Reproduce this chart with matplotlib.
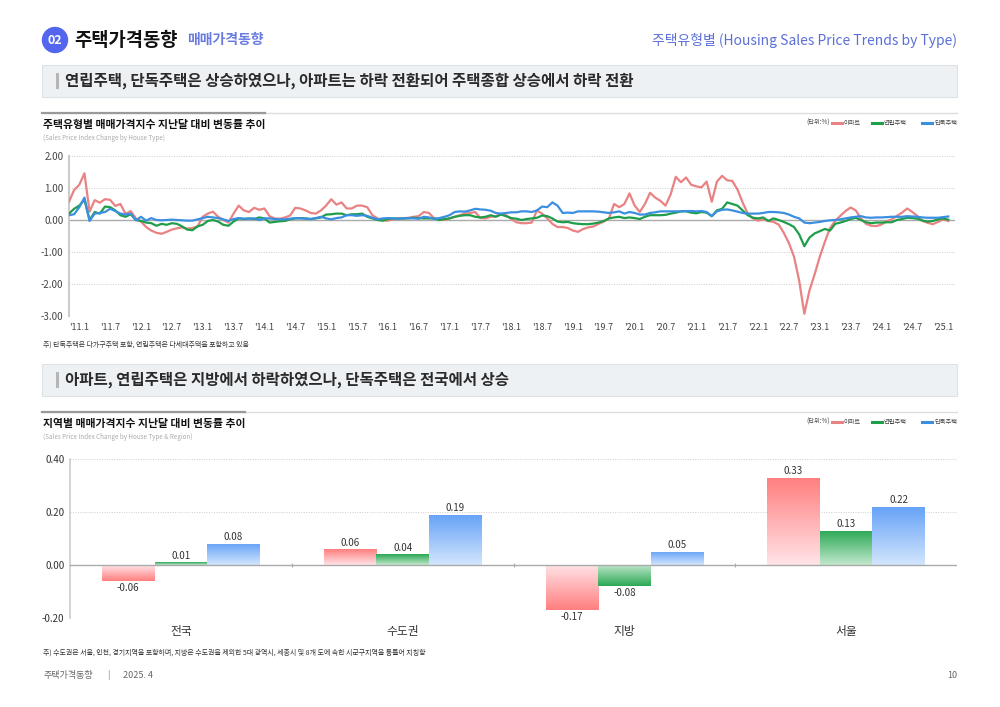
import matplotlib
matplotlib.use('Agg')
import matplotlib.pyplot as plt
from matplotlib.patches import Rectangle, Ellipse
from matplotlib.colors import LinearSegmentedColormap
import numpy as np

plt.rcParams['font.family'] = ['Noto Sans CJK KR', 'DejaVu Sans']

# monthly change (%), 2011.1 - 2025.4
apt = [0.57, 0.94, 1.1, 1.46, 0.26, 0.62, 0.54, 0.65, 0.63, 0.44,
       0.5, 0.19, 0.28, 0.05, -0.05, -0.22, -0.33, -0.4, -0.43, -0.37,
       -0.3, -0.26, -0.23, -0.27, -0.25, -0.2, 0.1, 0.2, 0.26, 0.1,
       0.0, -0.08, 0.2, 0.45, 0.3, 0.25, 0.38, 0.32, 0.36, 0.12,
       0.05, 0.04, 0.08, 0.14, 0.38, 0.36, 0.3, 0.22, 0.2, 0.3,
       0.45, 0.65, 0.48, 0.55, 0.36, 0.36, 0.45, 0.45, 0.4, 0.15,
       0.05, -0.01, -0.02, 0.02, 0.05, 0.05, 0.07, 0.1, 0.12, 0.25,
       0.22, 0.05, 0.02, 0.0, 0.05, 0.1, 0.15, 0.2, 0.22, 0.25,
       0.06, 0.05, 0.1, 0.12, 0.18, 0.15, 0.03, -0.07, -0.1, -0.1,
       -0.08, 0.3, 0.2, 0.05, -0.12, -0.22, -0.22, -0.25, -0.33, -0.37,
       -0.28, -0.23, -0.2, -0.12, -0.05, 0.05, 0.5, 0.4, 0.5, 0.83,
       0.45, 0.25, 0.5, 0.85, 0.7, 0.6, 0.45, 0.8, 1.35, 1.18,
       1.33, 1.1, 1.05, 1.02, 1.2, 0.57, 1.2, 1.38, 1.24, 1.22,
       0.95, 0.55, 0.2, 0.05, -0.02, 0.02, -0.03, -0.06, -0.14, -0.4,
       -0.72, -1.15, -1.9, -2.93, -2.2, -1.7, -1.15, -0.68, -0.25, -0.03,
       0.13, 0.28, 0.39, 0.3, 0.05, -0.12, -0.18, -0.19, -0.14, -0.04,
       0.02, 0.13, 0.23, 0.36, 0.25, 0.12, -0.03, -0.09, -0.13, -0.06,
       0.02, -0.03]
row = [0.2, 0.35, 0.45, 0.63, 0.0, 0.25, 0.2, 0.42, 0.4, 0.3,
       0.15, 0.1, 0.18, 0.0, -0.03, -0.08, -0.1, -0.18, -0.12, -0.15,
       -0.1, -0.12, -0.2, -0.3, -0.32, -0.2, -0.15, -0.03, 0.0, -0.05,
       -0.15, -0.18, -0.05, 0.05, 0.03, 0.05, 0.03, 0.08, 0.05, -0.08,
       -0.06, -0.04, -0.03, 0.02, 0.05, 0.06, 0.05, 0.03, 0.05, 0.08,
       0.17, 0.18, 0.2, 0.2, 0.15, 0.18, 0.18, 0.2, 0.1, 0.05,
       0.0, -0.02, 0.03, 0.05, 0.04, 0.05, 0.05, 0.07, 0.06, 0.05,
       0.05, 0.05, 0.0, 0.03, 0.05, 0.1, 0.13, 0.15, 0.15, 0.1,
       0.08, 0.1, 0.15, 0.1, 0.17, 0.12, 0.06, 0.04, 0.0, 0.03,
       0.05, 0.07, 0.14, 0.12, 0.05, -0.05, -0.07, -0.06, -0.1, -0.12,
       -0.13, -0.13, -0.11, -0.08, -0.03, 0.05, 0.08, 0.1, 0.06, 0.08,
       0.06, 0.03, 0.1, 0.15, 0.15, 0.15, 0.16, 0.2, 0.23, 0.27,
       0.27, 0.23, 0.21, 0.25, 0.23, 0.12, 0.3, 0.35, 0.55, 0.5,
       0.45, 0.3, 0.15, 0.07, 0.05, 0.08, -0.03, 0.05, 0.0, -0.06,
       -0.13, -0.22, -0.45, -0.82, -0.55, -0.42, -0.35, -0.28, -0.33, -0.12,
       -0.08, -0.03, 0.03, 0.07, 0.0, -0.07, -0.1, -0.08, -0.08, -0.07,
       -0.07, 0.0, 0.03, 0.07, 0.06, 0.04, -0.02, -0.05, -0.03, 0.02,
       0.05, 0.01]
det = [0.15, 0.18, 0.4, 0.7, -0.03, 0.2, 0.22, 0.25, 0.35, 0.28,
       0.2, 0.17, 0.2, -0.01, 0.1, -0.02, 0.06, 0.0, -0.01, 0.0,
       0.01, 0.0, -0.01, -0.02, -0.02, 0.02, 0.06, 0.1, 0.08, 0.06,
       0.02, -0.03, 0.03, 0.06, 0.04, 0.04, 0.05, 0.0, 0.05, 0.05,
       0.03, 0.02, 0.02, 0.04, 0.06, 0.05, 0.04, 0.03, 0.06, 0.1,
       0.05, 0.02, 0.06, 0.08, 0.15, 0.15, 0.13, 0.15, 0.13, 0.07,
       0.02, 0.05, 0.06, 0.05, 0.04, 0.05, 0.06, 0.05, 0.04, 0.1,
       0.08, 0.03, 0.06, 0.1, 0.15, 0.25, 0.27, 0.26, 0.3, 0.35,
       0.33, 0.32, 0.29, 0.22, 0.2, 0.22, 0.24, 0.24, 0.27, 0.27,
       0.25, 0.3, 0.42, 0.4, 0.55, 0.45, 0.22, 0.23, 0.22, 0.27,
       0.27, 0.27, 0.27, 0.26, 0.24, 0.22, 0.24, 0.27, 0.2, 0.25,
       0.22, 0.17, 0.17, 0.22, 0.24, 0.27, 0.27, 0.27, 0.27, 0.27,
       0.28, 0.28, 0.27, 0.28, 0.25, 0.12, 0.27, 0.32, 0.33, 0.3,
       0.26, 0.22, 0.2, 0.2, 0.2, 0.22, 0.25, 0.25, 0.24, 0.22,
       0.17, 0.1, 0.05, -0.08, -0.1, -0.08, -0.06, -0.03, -0.01, 0.0,
       0.02, 0.05, 0.08, 0.1, 0.12, 0.08, 0.07, 0.08, 0.08, 0.09,
       0.1, 0.1, 0.1, 0.12, 0.11, 0.1, 0.08, 0.07, 0.07, 0.07,
       0.09, 0.11]
xlabels = ["'%d.%d" % (y, m) for y in range(11, 26) for m in (1, 7)][:29]

regions = ['전국', '수도권', '지방', '서울']
bar_apt = [-0.06, 0.06, -0.17, 0.33]
bar_row = [0.01, 0.04, -0.08, 0.13]
bar_det = [0.08, 0.19, 0.05, 0.22]

C_APT, C_ROW, C_DET = '#e98283', '#1f9e4a', '#3b8fe0'

W, H = 1000, 707
fig = plt.figure(figsize=(10, 7.07), dpi=100)


def fx(x):
    return x / W


def fy(y):
    return 1 - y / H


def rect(x0, y0, x1, y1, **kw):
    fig.patches.append(Rectangle((fx(x0), fy(y1)), fx(x1 - x0), (y1 - y0) / H,
                                 transform=fig.transFigure, **kw))


def hline(x0, x1, y, color, lw):
    fig.add_artist(plt.Line2D([fx(x0), fx(x1)], [fy(y), fy(y)], color=color,
                              lw=lw, transform=fig.transFigure))


# header
fig.patches.append(Ellipse((fx(55), fy(40)), 25 / W, 25 / H, color='#5566ee',
                           transform=fig.transFigure))
fig.text(fx(55), fy(40.5), '02', color='white', fontsize=9, weight='bold',
         ha='center', va='center')
fig.text(fx(74), fy(40), '주택가격동향', fontsize=13.5, weight='bold',
         color='#111', va='center')
fig.text(fx(187), fy(40), '매매가격동향', fontsize=10, weight='bold',
         color='#6a7be0', va='center')
fig.text(fx(957), fy(40), '주택유형별 (Housing Sales Price Trends by Type)',
         fontsize=10, color='#5b6fd6', ha='right', va='center')


def banner(y0, y1, text):
    rect(42, y0, 957, y1, facecolor='#eef1f3', edgecolor='#dde2e5', lw=0.8)
    rect(55.5, y0 + 8, 58.5, y1 - 8, facecolor='#b5b5b5', edgecolor='none')
    fig.text(fx(65), fy((y0 + y1) / 2), text, fontsize=11.2, weight='bold',
             color='#2a2a2a', va='center')


def chart_head(y, x_dark, title, sub):
    hline(42, 957, y, '#dddddd', 1.0)
    hline(42, x_dark, y, '#9a9a9a', 1.6)
    fig.text(fx(43), fy(y + 12), title, fontsize=7.8, weight='bold',
             color='#111', va='center')
    fig.text(fx(43), fy(y + 25), sub, fontsize=4.5, color='#aaaaaa',
             va='center')
    ly = y + 10
    fig.text(fx(806), fy(ly), '(단위:%)', fontsize=4.5, color='#444',
             va='center')
    for x0, c, lab in [(832, C_APT, '아파트'), (872, C_ROW, '연립주택'),
                       (922, C_DET, '단독주택')]:
        hline(x0, x0 + 10, ly, c, 2.2)
        fig.text(fx(x0 + 12), fy(ly), lab, fontsize=4.5, color='#444',
                 va='center')


banner(65, 97, '연립주택, 단독주택은 상승하였으나, 아파트는 하락 전환되어 주택종합 상승에서 하락 전환')
chart_head(113, 265, '주택유형별 매매가격지수 지난달 대비 변동률 추이',
           '(Sales Price Index Change by House Type)')

# line chart
ax1 = fig.add_axes([fx(69), fy(316), fx(955 - 69), 160 / H])
n = len(apt)
t = np.arange(n)
ax1.plot(t, apt, color=C_APT, lw=1.6, zorder=3)
ax1.plot(t, row, color=C_ROW, lw=1.6, zorder=4)
ax1.plot(t, det, color=C_DET, lw=1.6, zorder=5)
ax1.set_xlim(0, 172.3)
ax1.set_ylim(-3, 2)
ax1.set_yticks([2, 1, 0, -1, -2, -3])
ax1.set_yticklabels(['%.2f' % v for v in [2, 1, 0, -1, -2, -3]])
for v in [2, 1, -1, -2, -3]:
    ax1.axhline(v, color='#cccccc', lw=0.7, ls=(0, (1, 1.5)), zorder=1)
ax1.axhline(0, color='#aaaaaa', lw=1.0, zorder=2)
ax1.set_xticks(np.arange(0, 169, 6))
ax1.set_xticklabels(xlabels, ha='left')
ax1.tick_params(axis='both', length=0, labelsize=6.5, labelcolor='#444')
ax1.tick_params(axis='y', pad=4, labelsize=7)
ax1.tick_params(axis='x', pad=5)
for s in ['top', 'right', 'bottom']:
    ax1.spines[s].set_visible(False)
ax1.spines['left'].set_color('#cccccc')
ax1.spines['left'].set_linewidth(1.5)

fig.text(fx(43), fy(345), '주) 단독주택은 다가구주택 포함, 연립주택은 다세대주택을 포함하고 있음',
         fontsize=5, color='#333', va='center')

banner(364, 396, '아파트, 연립주택은 지방에서 하락하였으나, 단독주택은 전국에서 상승')
chart_head(412, 245, '지역별 매매가격지수 지난달 대비 변동률 추이',
           '(Sales Price Index Change by House Type & Region)')

# bar chart
ax2 = fig.add_axes([fx(70), fy(618), fx(957 - 70), 159 / H])
ax2.set_xlim(-0.5, 3.5)
ax2.set_ylim(-0.2, 0.4)
bw = 0.237
grad = np.linspace(0, 1, 256).reshape(-1, 1)
cmaps = [LinearSegmentedColormap.from_list('a', ['#ffe4e8', '#ff7e7e']),
         LinearSegmentedColormap.from_list('r', ['#c3e8ce', '#2aa853']),
         LinearSegmentedColormap.from_list('d', ['#d3e6fd', '#65a2f7'])]
x = np.arange(len(regions))
for k, vals in enumerate([bar_apt, bar_row, bar_det]):
    bars = ax2.bar(x + (k - 1) * bw, vals, bw, facecolor='none',
                   edgecolor='none', zorder=3)
    for b, v in zip(bars, vals):
        x0 = b.get_x()
        g = grad if v >= 0 else grad[::-1]
        im = ax2.imshow(g, cmap=cmaps[k], aspect='auto', origin='lower',
                        extent=[x0, x0 + bw, min(0, v), max(0, v)], zorder=3)
        im.set_clip_path(b)
        cx = x0 + bw / 2
        if v >= 0:
            ax2.text(cx, v + 0.006, '%.2f' % v, ha='center', va='bottom',
                     fontsize=7, color='#333')
        else:
            ax2.text(cx, v - 0.008, '%.2f' % v, ha='center', va='top',
                     fontsize=7, color='#333')
for v in [0.4, 0.2, -0.2]:
    ax2.axhline(v, color='#cccccc', lw=0.7, ls=(0, (1, 1.5)), zorder=1)
ax2.axhline(0, color='#aaaaaa', lw=1.0, zorder=4)
ax2.vlines([0.5, 1.5, 2.5], -0.006, 0.006, color='#aaaaaa', lw=0.8, zorder=4)
ax2.set_yticks([0.4, 0.2, 0.0, -0.2])
ax2.set_yticklabels(['0.40', '0.20', '0.00', '-0.20'])
ax2.set_xticks(x)
ax2.set_xticklabels(regions)
ax2.tick_params(axis='both', length=0, labelcolor='#333')
ax2.tick_params(axis='y', labelsize=7, pad=4)
ax2.tick_params(axis='x', labelsize=8.5, pad=5)
for s in ['top', 'right', 'bottom']:
    ax2.spines[s].set_visible(False)
ax2.spines['left'].set_color('#cccccc')
ax2.spines['left'].set_linewidth(1.2)

fig.text(fx(43), fy(653), '주) 수도권은 서울, 인천, 경기지역을 포함하며, 지방은 수도권을 제외한 5대 광역시, '
         '세종시 및 8개 도에 속한 시군구지역을 통틀어 지칭함',
         fontsize=5, color='#333', va='center')

# footer
fig.text(fx(43), fy(675), '주택가격동향', fontsize=6.5, color='#666', va='center')
fig.text(fx(107), fy(675), '|', fontsize=6.5, color='#888', va='center')
fig.text(fx(123), fy(675), '2025. 4', fontsize=6.5, color='#666', va='center')
fig.text(fx(957), fy(675), '10', fontsize=6.5, color='#666', va='center',
         ha='right')

fig.savefig('out.png', dpi=100, facecolor='white')
